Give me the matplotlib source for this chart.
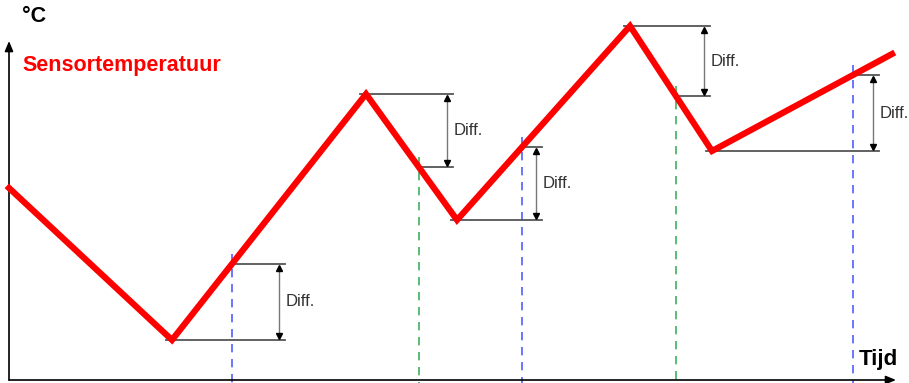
import numpy as np
import matplotlib.pyplot as plt

plt.rcParams["font.family"] = ["Liberation Sans", "DejaVu Sans"]

# knee points of the sensor temperature curve (arbitrary units)
tijd = [0, 163, 357, 448, 621, 703, 883]
temp = [192, 40, 286, 160, 354, 229, 326]

# switching moments: which extreme they are measured from, and when
diff_extreme = [1, 2, 3, 4, 5]
switch_tijd = [223, 410, 513, 667, 844]
switch_kind = ["min", "max", "min", "max", "min"]
arrow_tijd = [270, 438, 527, 695, 864]

kind_color = {"min": "#5060ff", "max": "#40b060"}

fig = plt.figure(figsize=(9.09, 3.83), dpi=100)
ax = fig.add_axes([0, 0, 1, 1])
ax.set_xlim(-9, 900)
ax.set_ylim(-3, 380)
ax.axis("off")

# axes with arrows
arrow_kw = dict(arrowstyle="-|>,head_length=0.6,head_width=0.25", color="black", lw=1.2,
                shrinkA=0, shrinkB=0)
ax.annotate("", xy=(0, 339), xytext=(0, 0), arrowprops=arrow_kw)
ax.annotate("", xy=(887, 0), xytext=(0, 0), arrowprops=arrow_kw)

# dashed switching lines and Diff. markers
for idx, ts, kind, ta in zip(diff_extreme, switch_tijd, switch_kind, arrow_tijd):
    t_ext, v_ext = tijd[idx], temp[idx]
    v_sw = np.interp(ts, tijd, temp)
    ax.plot([ts, ts], [v_sw + 10, -3], color=kind_color[kind], lw=1.2,
            dashes=(5, 4), zorder=1)
    ax.plot([t_ext - 6, ta + 6], [v_ext, v_ext], color="#555555", lw=1.3, zorder=2)
    ax.plot([ts, ta + 6], [v_sw, v_sw], color="#555555", lw=1.3, zorder=2)
    lo, hi = min(v_ext, v_sw), max(v_ext, v_sw)
    ax.plot([ta, ta], [lo + 3, hi - 3], color="#777777", lw=1.0, zorder=2)
    ax.plot([ta], [hi - 4], marker="^", color="black", ms=5, zorder=3)
    ax.plot([ta], [lo + 4], marker="v", color="black", ms=5, zorder=3)
    ax.text(ta + 7, (lo + hi) / 2, "Diff.", fontsize=12, color="#333333",
            ha="left", va="center")

# the sensor temperature
ax.plot(tijd, temp, color="#ff0000", lw=4.5, solid_joinstyle="miter", zorder=4)

ax.text(13, 363, "°C", fontsize=15.5, fontweight="bold", ha="left", va="center")
ax.text(13, 314, "Sensortemperatuur", fontsize=15.5, fontweight="bold",
        color="#ff0000", ha="left", va="center")
ax.text(850, 21, "Tijd", fontsize=16, fontweight="bold", ha="left", va="center")

plt.savefig("out.png", dpi=100)
